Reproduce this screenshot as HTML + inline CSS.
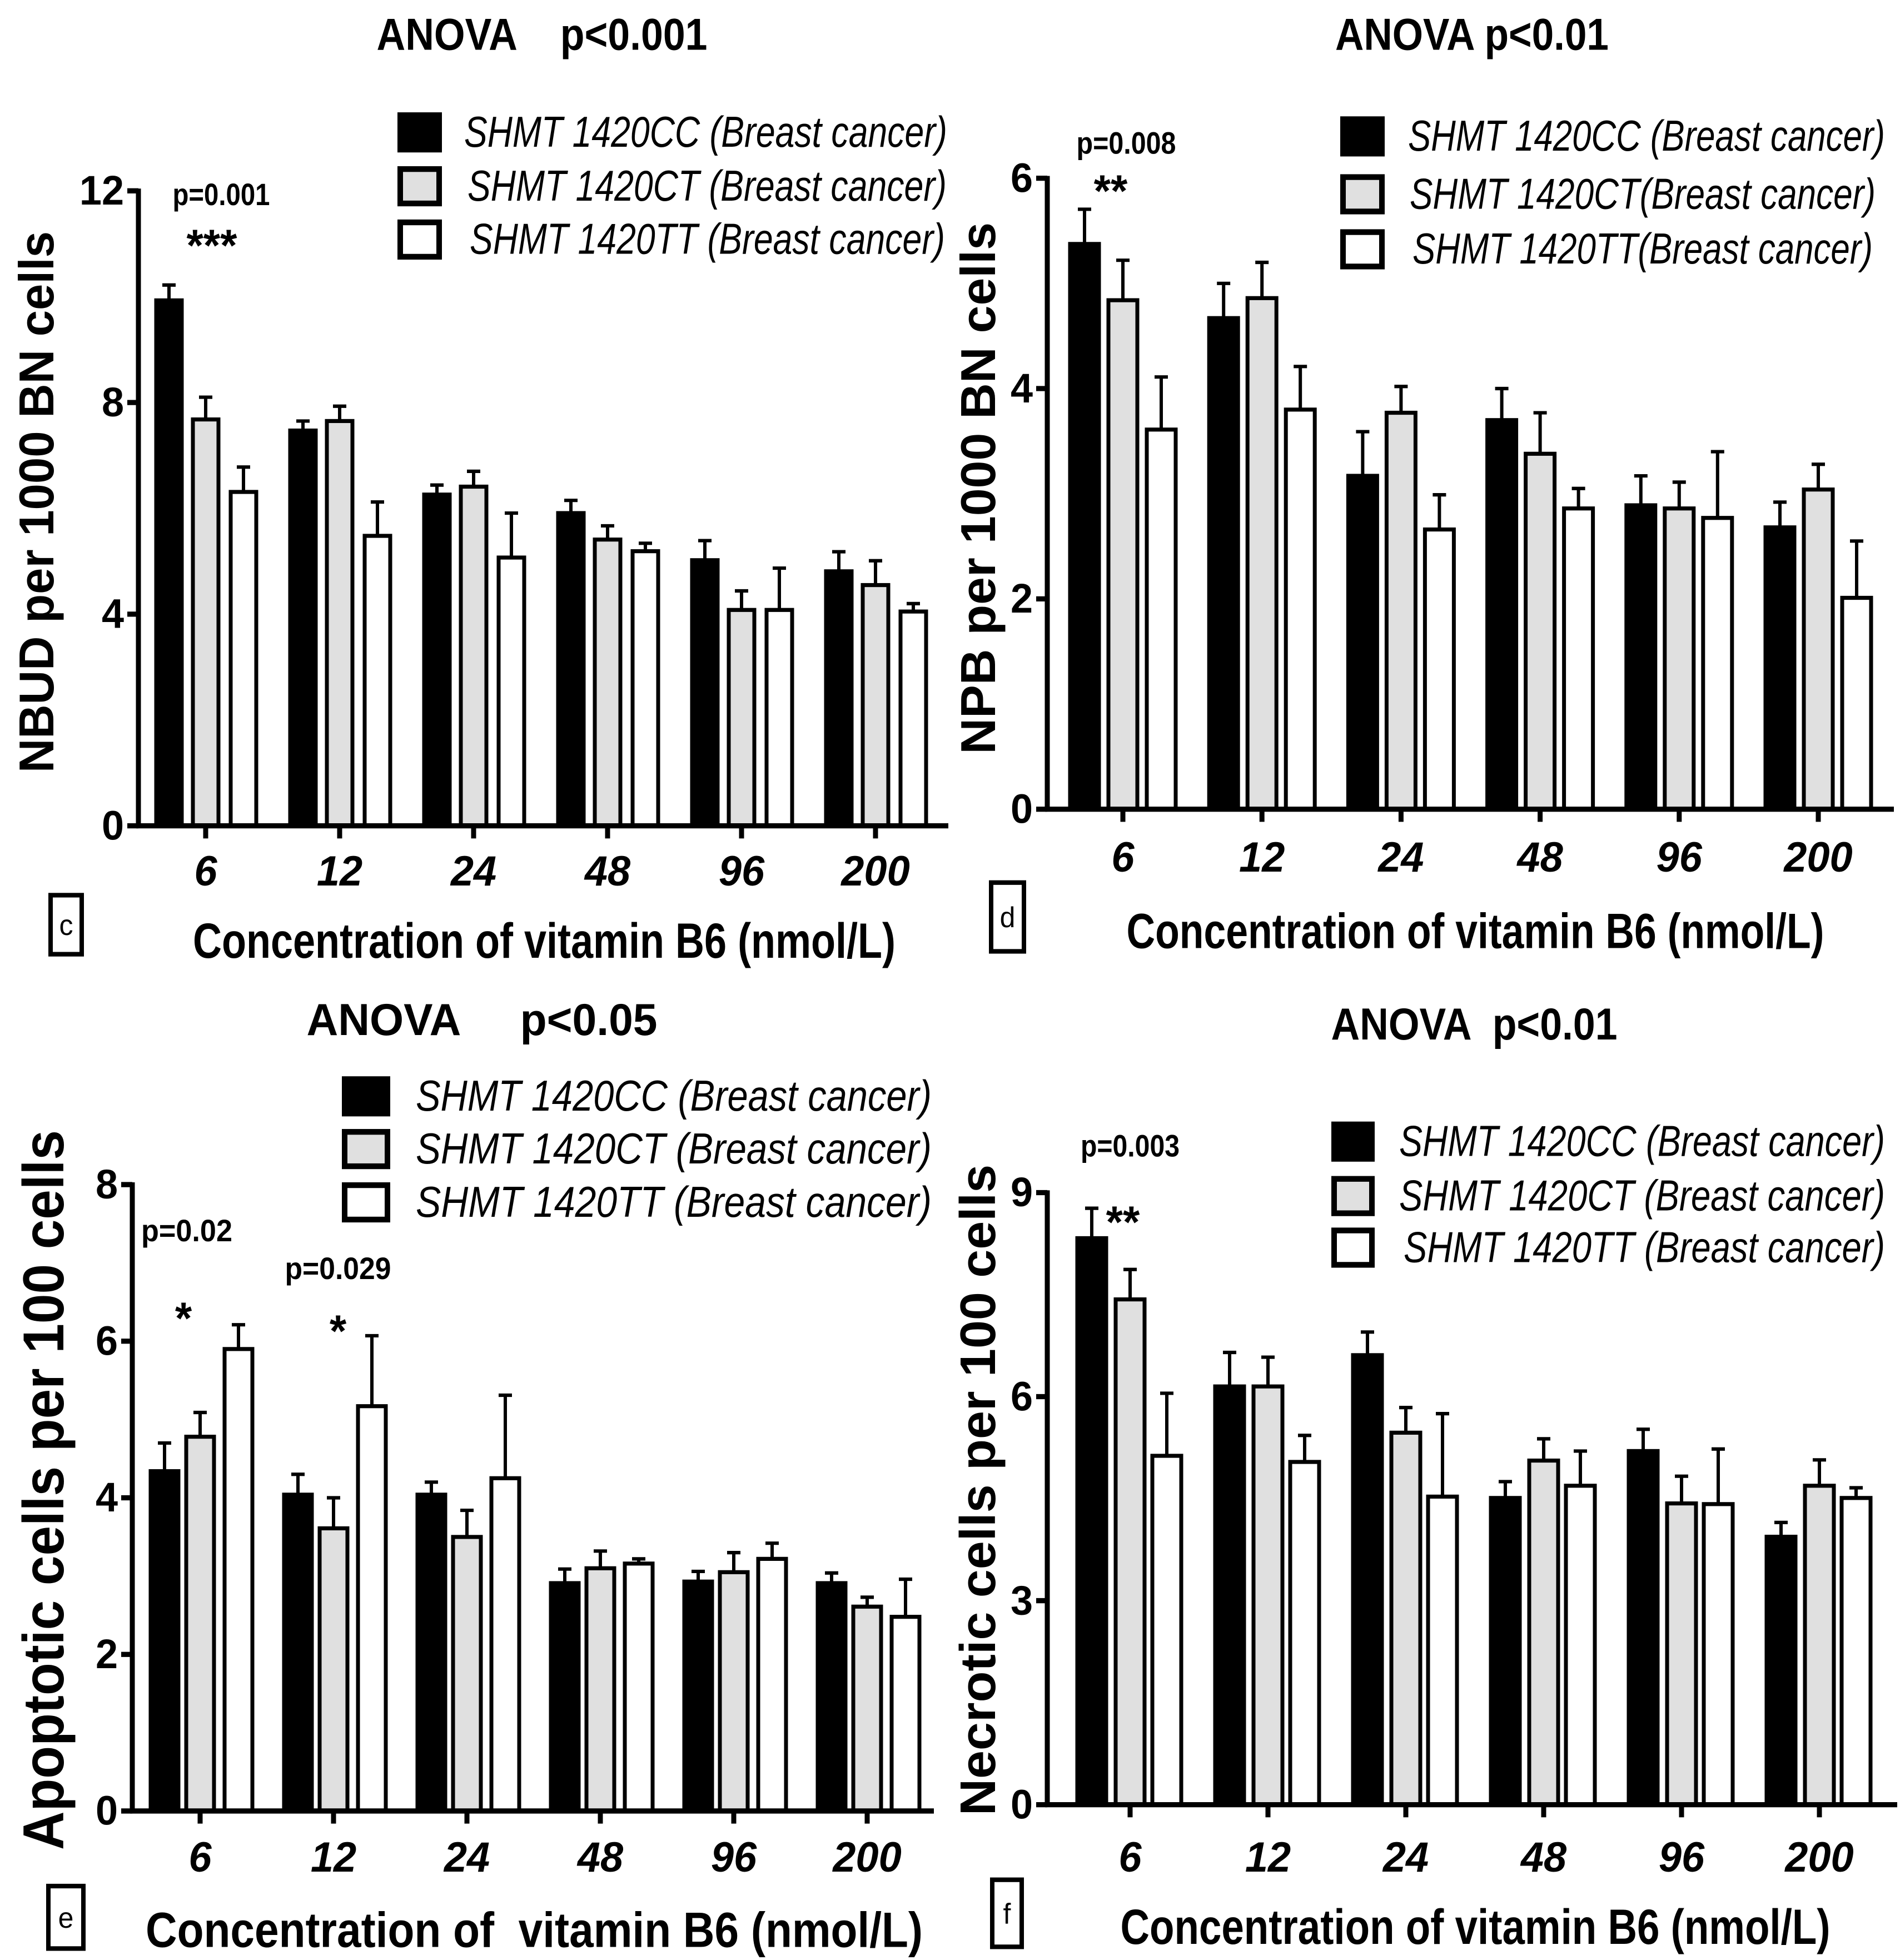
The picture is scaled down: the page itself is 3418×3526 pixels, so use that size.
<!DOCTYPE html>
<html><head><meta charset="utf-8"><style>
html,body{margin:0;padding:0;background:#fff;}
svg{display:block;}
text{font-family:"Liberation Sans",Arial,sans-serif;fill:#000;white-space:pre;}
</style></head><body>
<svg id="fig" width="3418" height="3526" viewBox="0 0 3418 3526" xmlns="http://www.w3.org/2000/svg"></svg>
<script>
const categories = ["6","12","24","48","96","200"];
const seriesNames = ["CC","CT","TT"];
// Panel c: NBUD
const cCC = [9.93,7.47,6.26,5.91,5.02,4.81];
const cCCerr = [0.29,0.18,0.18,0.24,0.37,0.37];
const cCT = [7.68,7.65,6.41,5.41,4.08,4.55];
const cCTerr = [0.42,0.28,0.29,0.26,0.36,0.46];
const cTT = [6.31,5.48,5.07,5.19,4.08,4.05];
const cTTerr = [0.47,0.64,0.84,0.15,0.79,0.15];
const cTicks = [0,4,8,12];
// Panel d: NPB
const dCC = [5.375,4.67,3.17,3.70,2.89,2.68];
const dCCerr = [0.33,0.33,0.42,0.30,0.28,0.24];
const dCT = [4.84,4.86,3.77,3.38,2.86,3.04];
const dCTerr = [0.38,0.34,0.25,0.39,0.25,0.24];
const dTT = [3.61,3.80,2.66,2.86,2.77,2.01];
const dTTerr = [0.50,0.41,0.33,0.19,0.63,0.54];
const dTicks = [0,2,4,6];
// Panel e: Apoptotic
const eCC = [4.34,4.04,4.04,2.91,2.93,2.91];
const eCCerr = [0.36,0.26,0.16,0.18,0.13,0.13];
const eCT = [4.78,3.61,3.50,3.10,3.05,2.61];
const eCTerr = [0.31,0.39,0.34,0.22,0.25,0.12];
const eTT = [5.90,5.17,4.25,3.16,3.22,2.48];
const eTTerr = [0.31,0.90,1.06,0.06,0.20,0.48];
const eTicks = [0,2,4,6,8];
// Panel f: Necrotic
const fCC = [8.33,6.15,6.61,4.51,5.20,3.94];
const fCCerr = [0.44,0.50,0.34,0.24,0.32,0.21];
const fCT = [7.43,6.15,5.47,5.06,4.43,4.69];
const fCTerr = [0.44,0.43,0.37,0.32,0.40,0.38];
const fTT = [5.13,5.04,4.53,4.69,4.42,4.51];
const fTTerr = [0.92,0.39,1.22,0.51,0.81,0.15];
const fTicks = [0,3,6,9];

const NS="http://www.w3.org/2000/svg";
const svg=document.getElementById('fig');
function mk(tag,attrs,parent){const e=document.createElementNS(NS,tag);for(const k in attrs)e.setAttribute(k,attrs[k]);(parent||svg).appendChild(e);return e;}
function txt(s,attrs,parent){const t=mk('text',attrs,parent);t.textContent=s;return t;}
const fills=["#000","#e0e0e0","#fff"];
const VS=1.031;

function panel(p){
  const g=mk('g',{transform:`translate(0,${p.oy}) scale(1,${VS}) translate(0,${-p.oy})`});
  
  
  const ymax=p.ticks[p.ticks.length-1];
  const Y=v=>p.y0-(v/ymax)*(p.y0-p.ytop);
  const X=i=>p.xt[0]+i*(p.xt[1]-p.xt[0]);
  const data=[p.cc,p.ct,p.tt], errs=[p.cce,p.cte,p.tte];
  for(let s=0;s<3;s++){
    for(let i=0;i<categories.length;i++){
      const cx=X(i)+p.off[s], top=Y(data[s][i]), et=Y(data[s][i]+errs[s][i]);
      const l=mk('line',{x1:cx,x2:cx,y1:top,y2:et,stroke:'#000','stroke-width':6},g);
      
      
      const c=mk('line',{x1:cx-12,x2:cx+12,y1:et,y2:et,stroke:'#000','stroke-width':6},g);
      
      
      const r=mk('rect',{x:cx-p.bw/2,y:top,width:p.bw,height:p.y0-top,fill:fills[s],stroke:'#000','stroke-width':7},g);
      
      
    }
  }
  const ya=mk('line',{x1:p.ax,x2:p.ax,y1:p.ytop-4,y2:p.y0+4,stroke:'#000','stroke-width':9},g);
  
  
  const xa=mk('line',{x1:p.ax-4,x2:p.xend,y1:p.y0,y2:p.y0,stroke:'#000','stroke-width':9},g);
  
  
  p.ticks.forEach(t=>{
    const y=Y(t);
    mk('line',{x1:p.ax-20,x2:p.ax,y1:y,y2:y,stroke:'#000','stroke-width':9},g);
    const tl=txt(String(t),{x:p.ax-26,y:y+24,'text-anchor':'end','font-size':72,'font-weight':'bold'},g);
    
    
  });
  categories.forEach((c,i)=>{
    const x=X(i);
    mk('line',{x1:x,x2:x,y1:p.y0,y2:p.y0+22,stroke:'#000','stroke-width':9},g);
    const tl=txt(c,{x:x,y:p.xlb,'text-anchor':'middle','font-size':74,'font-weight':'bold','font-style':'italic'},g);
    
    
  });
  const ti=txt(p.title,{x:p.tx,y:p.ty,'text-anchor':'middle','font-size':78,'font-weight':'bold',textLength:p.tl,lengthAdjust:'spacingAndGlyphs'},g);
  
  
  const yt=txt(p.ytitle,{x:0,y:0,'text-anchor':'middle','font-size':p.yfs,'font-weight':'bold',textLength:p.ytl,lengthAdjust:'spacingAndGlyphs',transform:`translate(${p.ytx},${p.yty}) rotate(-90)`},g);
  
  
  const xt=txt(p.xtitle,{x:p.xtx,y:p.xty,'text-anchor':'middle','font-size':86,'font-weight':'bold',textLength:p.xtl,lengthAdjust:'spacingAndGlyphs'},g);
  
  
  const bx=mk('rect',{x:p.box[0],y:p.box[1],width:p.box[2],height:p.box[3],fill:'#fff',stroke:'#000','stroke-width':8},g);
  
  
  const bl=txt(p.id,{x:p.box[0]+p.box[2]/2,y:p.box[1]+p.box[3]/2+18,'text-anchor':'middle','font-size':50},g);
  
  
  p.leg.rows.forEach((ry,s)=>{
    const sq=mk('rect',{x:p.leg.sx+5,y:ry-30,width:p.leg.sw-10,height:60,fill:fills[s],stroke:'#000','stroke-width':10},g);
    
    
    const lt=txt(p.leg.labels[s],{x:p.leg.tx[s],y:ry+25,'font-size':76,'font-style':'italic',textLength:p.leg.tl[s],lengthAdjust:'spacingAndGlyphs'},g);
    
    
  });
  p.ann.forEach(a=>{
    const at=txt(a.t,{x:a.x,y:a.y,'text-anchor':'middle','font-size':a.fs,'font-weight':'bold'},g);
    if(a.tl){at.setAttribute('textLength',a.tl);at.setAttribute('lengthAdjust','spacingAndGlyphs');}
    
    
  });
}
const lab=(a,b)=>["SHMT 1420CC (Breast cancer)",a||"SHMT 1420CT (Breast cancer)",b||"SHMT 1420TT (Breast cancer)"];

panel({id:'c',oy:0,cc:cCC,ct:cCT,tt:cTT,cce:cCCerr,cte:cCTerr,tte:cTTerr,ticks:cTicks,
  ax:249,y0:1441,ytop:333,xt:[370,611],off:[-66,0,68],bw:46,xend:1706,xlb:1545,
  title:"ANOVA    p<0.001",tx:975,ty:87,tl:595,
  ytitle:"NBUD per 1000 BN cells",ytx:96,yty:876,yfs:88,ytl:945,
  xtitle:"Concentration of vitamin B6 (nmol/L)",xtx:979,xty:1671,xtl:1264,
  box:[91,1562,56,103],
  leg:{sx:715,sw:80,rows:[231,325,418],tx:[835,841,845],tl:[869,862,855],labels:lab()},
  ann:[{t:"p=0.001",x:398,y:358,fs:54,tl:175},{t:"***",x:381,y:455,fs:78}]});

panel({id:'d',oy:0,cc:dCC,ct:dCT,tt:dTT,cce:dCCerr,cte:dCTerr,tte:dTTerr,ticks:dTicks,
  ax:1884,y0:1412,ytop:311,xt:[2020,2270.2],off:[-69,0,69],bw:52,xend:3407,xlb:1521,
  title:"ANOVA p<0.01",tx:2648,ty:87,tl:492,
  ytitle:"NPB per 1000 BN cells",ytx:1790,yty:852,yfs:88,ytl:928,
  xtitle:"Concentration of vitamin B6 (nmol/L)",xtx:2654,xty:1654,xtl:1255,
  box:[1783,1540,59,120],
  leg:{sx:2411,sw:80,rows:[238,339,435],tx:[2533,2536,2541],tl:[858,838,828],labels:lab("SHMT 1420CT(Breast cancer)","SHMT 1420TT(Breast cancer)")},
  ann:[{t:"p=0.008",x:2026,y:268,fs:54,tl:179},{t:"**",x:1998,y:360,fs:78}]});

panel({id:'e',oy:1763,cc:eCC,ct:eCT,tt:eTT,cce:eCCerr,cte:eCTerr,tte:eTTerr,ticks:eTicks,
  ax:238,y0:3213,ytop:2120,xt:[360,600],off:[-64,0,69],bw:50,xend:1680,xlb:3319,
  title:"ANOVA     p<0.05",tx:867,ty:1859,tl:631,
  ytitle:"Apoptotic cells per 100 cells",ytx:114,yty:2653,yfs:104,ytl:1256,
  xtitle:"Concentration of  vitamin B6 (nmol/L)",xtx:961,xty:3450,xtl:1398,
  box:[87,3344,63,109],
  leg:{sx:615,sw:87,rows:[1966,2058,2151],tx:[748,748,748],tl:[928,928,928],labels:lab()},
  ann:[{t:"p=0.02",x:336,y:2219,fs:54,tl:164},{t:"*",x:330,y:2380,fs:78},{t:"p=0.029",x:608,y:2285,fs:54,tl:191},{t:"*",x:608,y:2402,fs:78}]});

panel({id:'f',oy:1763,cc:fCC,ct:fCT,tt:fTT,cce:fCCerr,cte:fCTerr,tte:fTTerr,ticks:fTicks,
  ax:1884,y0:3202,ytop:2134,xt:[2033,2281],off:[-69,0,66],bw:52,xend:3413,xlb:3319,
  title:"ANOVA  p<0.01",tx:2652,ty:1867,tl:515,
  ytitle:"Necrotic cells per 100 cells",ytx:1790,yty:2653,yfs:90,ytl:1136,
  xtitle:"Concentration of vitamin B6 (nmol/L)",xtx:2654,xty:3445,xtl:1277,
  box:[1785,3333,53,117],
  leg:{sx:2395,sw:78,rows:[2045,2140,2230],tx:[2517,2517,2525],tl:[874,874,866],labels:lab()},
  ann:[{t:"p=0.003",x:2033,y:2071,fs:54,tl:178},{t:"**",x:2020,y:2212,fs:78}]});
</script>
</body></html>
